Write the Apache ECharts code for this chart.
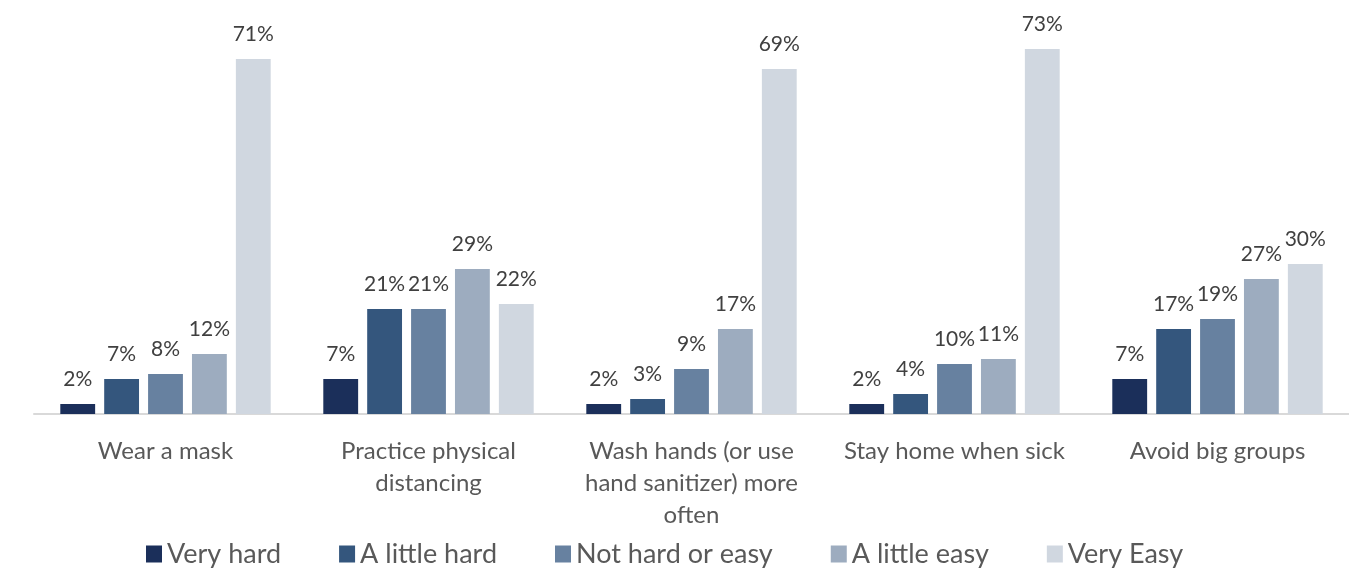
<!DOCTYPE html>
<html>
<head>
<meta charset="utf-8">
<script src="https://cdn.jsdelivr.net/npm/echarts@6/dist/echarts.min.js"></script>
<style>html,body{margin:0;padding:0;background:#fff}#c{width:1349px;height:574px}</style>
</head>
<body>
<div id="c"></div>
<script>
const categories = ["Wear a mask", "Practice physical\ndistancing", "Wash hands (or use\nhand sanitizer) more\noften", "Stay home when sick", "Avoid big groups"];
const seriesNames = ["Very hard", "A little hard", "Not hard or easy", "A little easy", "Very Easy"];
const veryHard = [2, 7, 2, 2, 7];
const littleHard = [7, 21, 3, 4, 17];
const notHardOrEasy = [8, 21, 9, 10, 19];
const littleEasy = [12, 29, 17, 11, 27];
const veryEasy = [71, 22, 69, 73, 30];
const seriesValues = [veryHard, littleHard, notHardOrEasy, littleEasy, veryEasy];
const colors = ["#1b2f5a", "#34567d", "#6781a0", "#9dacbf", "#d0d7e0"];

const chart = echarts.init(document.getElementById('c'));
chart.setOption({
  animation: false,
  textStyle: { fontFamily: 'Lato' },
  grid: { left: 34, right: 0, top: 14, bottom: 160, containLabel: false },
  legend: {
    left: 146, top: 540, padding: 0,
    itemWidth: 16, itemHeight: 17, itemGap: 58,
    icon: 'rect',
    textStyle: { fontSize: 27, lineHeight: 28, color: '#595959', fontFamily: 'Lato' },
    data: seriesNames
  },
  xAxis: {
    type: 'category',
    data: categories,
    axisLine: { lineStyle: { color: '#d9d9d9', width: 2 } },
    axisTick: { show: false },
    axisLabel: { fontSize: 24, color: '#595959', lineHeight: 32, margin: 21, interval: 0, fontFamily: 'Lato' }
  },
  yAxis: {
    type: 'value', min: 0, max: 80,
    show: false,
    splitLine: { show: false }
  },
  series: seriesValues.map((vals, i) => ({
    name: seriesNames[i],
    type: 'bar',
    data: vals,
    barGap: '26%',
    barCategoryGap: '20%',
    itemStyle: { color: colors[i] },
    label: {
      show: true, position: 'top', distance: 14,
      formatter: p => p.value + '%',
      fontSize: 21, color: '#404040', fontFamily: 'Lato'
    }
  }))
});
</script>
</body>
</html>
